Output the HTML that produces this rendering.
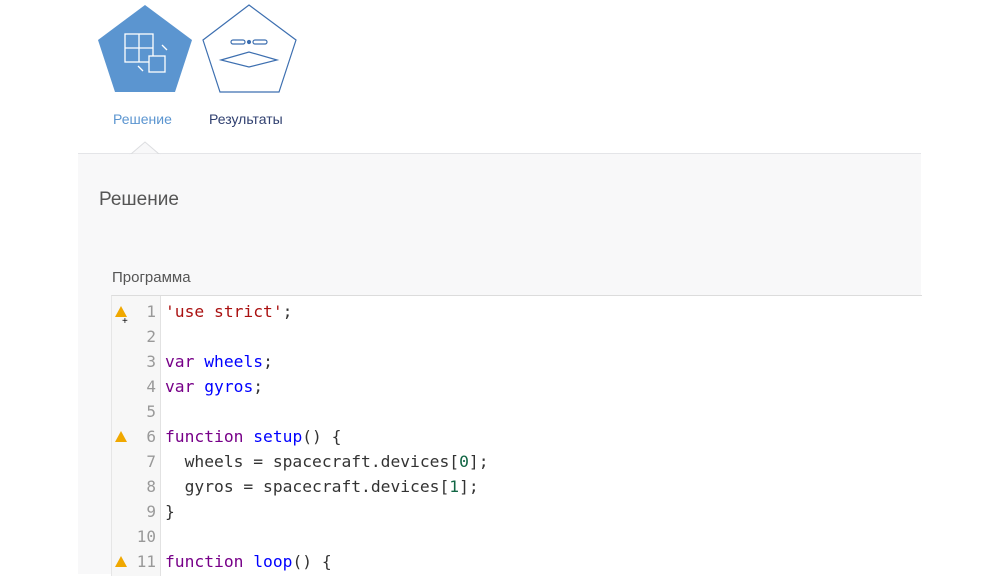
<!DOCTYPE html>
<html><head><meta charset="utf-8"><style>
body{margin:0;width:1000px;height:563px;background:#fff;overflow:hidden;position:relative;font-family:"Liberation Sans","DejaVu Sans",sans-serif}
.panel{position:absolute;left:78px;top:153px;width:843px;height:420px;background:#f8f8f9;border-top:1px solid #e4e5e8}
.lbl{position:absolute;font-size:14px}
.editor{position:absolute;left:111px;top:295px;width:810px;height:280px;background:#fff;border-top:1px solid #dcdcdc;border-left:1px solid #e6e6e6}
.gut{position:absolute;left:0;top:0;width:48px;height:100%;background:#f7f7f7;border-right:1px solid #e2e2e2}
.ln{position:absolute;left:0;width:44px;text-align:right;font:16px "DejaVu Sans Mono",monospace;color:#999}
.code{position:absolute;left:53px;font:16.3px "DejaVu Sans Mono",monospace;color:#333;white-space:pre}
.s{color:#a11}.k{color:#708}.d{color:#00f}.n{color:#164}
.w{position:absolute;left:3px;width:0;height:0;border-left:6px solid transparent;border-right:6px solid transparent;border-bottom:11px solid #f0a800}
</style></head><body>
<svg width="320" height="160" style="position:absolute;left:0;top:0">
<polygon points="145,5 192,40 175,92 115,92 98,40" fill="#5b95d0"/>
<g stroke="#fff" fill="none" stroke-width="1.3"><rect x="125" y="34" width="28" height="28"/><line x1="139" y1="34" x2="139" y2="62"/><line x1="125" y1="48" x2="153" y2="48"/><rect x="149" y="56" width="16" height="16" fill="#5b95d0"/><line x1="162" y1="45" x2="167" y2="50"/><line x1="138" y1="66" x2="143" y2="71"/></g>
<polygon points="249,5 296,40 279,92 220,92 203,40" fill="#fff" stroke="#3d6fb0" stroke-width="1.2"/>
<g stroke="#3d6fb0" fill="none" stroke-width="1.2"><rect x="231" y="40" width="14" height="4" rx="2"/><rect x="253" y="40" width="14" height="4" rx="2"/><circle cx="249" cy="42" r="1.5" fill="#3d6fb0"/><polygon points="221,60 249,52 277,60 249,67"/></g>
</svg>
<div class="panel"></div>
<svg width="40" height="20" style="position:absolute;left:125px;top:140px"><polygon points="6,14 20,2 34,14" fill="#f8f8f9" stroke="#dcdde0"/><rect x="5" y="14" width="30" height="6" fill="#f8f8f9"/></svg>
<div class="lbl" style="left:113px;top:111px;color:#5b95d0">Решение</div>
<div class="lbl" style="left:209px;top:111px;color:#2f3f6f">Результаты</div>
<div style="position:absolute;left:99px;top:189px;font-size:19px;color:#555">Решение</div>
<div style="position:absolute;left:112px;top:269px;font-size:15px;color:#555">Программа</div>
<div class="editor"><div class="gut"></div>
<div class="w" style="top:10px"></div><div style="position:absolute;left:10px;top:20px;font-size:10px">+</div>
<div class="w" style="top:135px"></div><div class="w" style="top:260px"></div>
<div class="ln" style="top:6px">1</div><div class="ln" style="top:31px">2</div><div class="ln" style="top:56px">3</div><div class="ln" style="top:81px">4</div><div class="ln" style="top:106px">5</div><div class="ln" style="top:131px">6</div><div class="ln" style="top:156px">7</div><div class="ln" style="top:181px">8</div><div class="ln" style="top:206px">9</div><div class="ln" style="top:231px">10</div><div class="ln" style="top:256px">11</div>
<div class="code" style="top:6px"><span class="s">'use strict'</span>;</div>
<div class="code" style="top:56px"><span class="k">var</span> <span class="d">wheels</span>;</div>
<div class="code" style="top:81px"><span class="k">var</span> <span class="d">gyros</span>;</div>
<div class="code" style="top:131px"><span class="k">function</span> <span class="d">setup</span>() {</div>
<div class="code" style="top:156px">  wheels = spacecraft.devices[<span class="n">0</span>];</div>
<div class="code" style="top:181px">  gyros = spacecraft.devices[<span class="n">1</span>];</div>
<div class="code" style="top:206px">}</div>
<div class="code" style="top:256px"><span class="k">function</span> <span class="d">loop</span>() {</div>
</div>
</body></html>
